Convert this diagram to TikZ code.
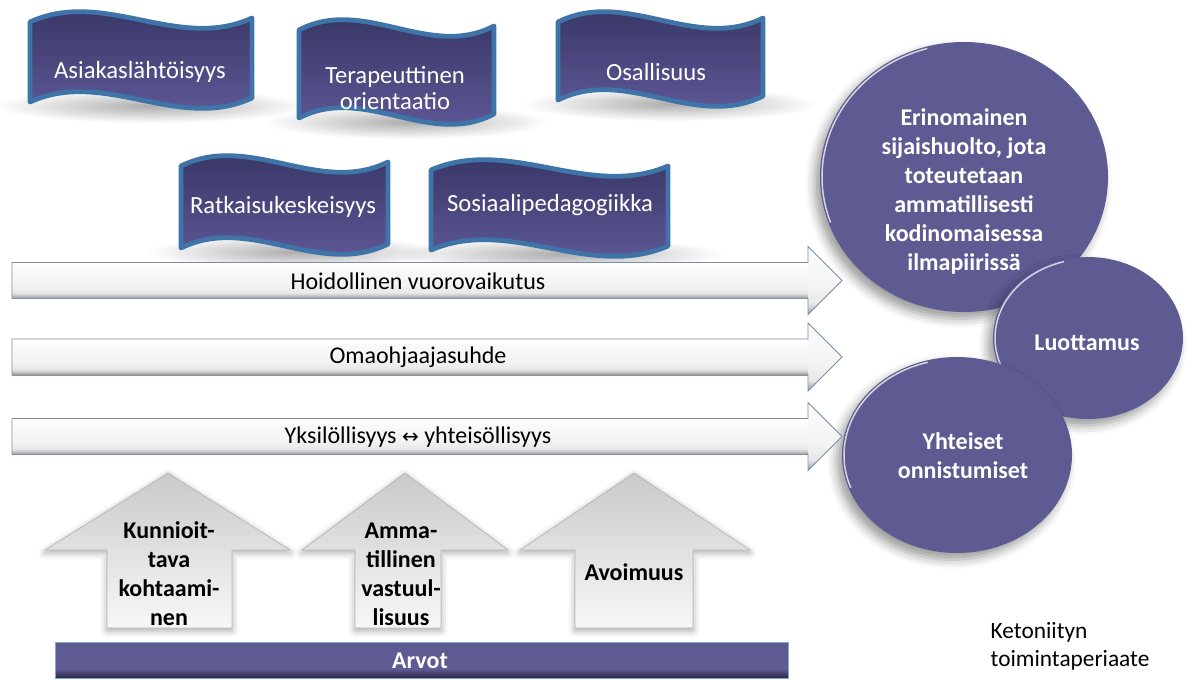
\documentclass[tikz,border=0pt]{standalone}
\usepackage{fontspec}
\setmainfont{Carlito}
\newfontfamily\symfont{DejaVu Sans}
\usetikzlibrary{shapes.geometric,shadows.blur,fadings}
\definecolor{flagedge}{RGB}{62,116,168}
\definecolor{flagtop}{RGB}{50,48,94}
\definecolor{flagbot}{RGB}{100,94,158}
\definecolor{circ}{RGB}{94,90,146}
\definecolor{bardark}{RGB}{40,38,70}
\definecolor{arredge}{RGB}{120,142,170}
\definecolor{baredge}{RGB}{130,165,200}
\tikzfading[name=flagfade, inner color=transparent!68, outer color=transparent!100]
\pgfdeclareverticalshading{hbar}{100bp}{color(0bp)=(gray!80); color(25bp)=(gray!80); color(28bp)=(gray!55); color(33bp)=(gray!18); color(45bp)=(gray!9); color(68bp)=(gray!4); color(72bp)=(white); color(75bp)=(white); color(100bp)=(white)}
\newcommand\fshadow[3]{%
  \fill[black, path fading=flagfade] ({(#1+#2)/2+10},{#3+4}) ellipse [x radius={(#2-#1)/2+45}, y radius=17];}
\newcommand\wavflag[4]{%
  \shadedraw[flagstyle] (#1,#3) .. controls ({#1+(#2-#1)/3},{#3-34}) and ({#1+2*(#2-#1)/3},{#3+30}) .. (#2,{#3-4})
   -- (#2,{#4-4}) .. controls ({#1+2*(#2-#1)/3},{#4+30}) and ({#1+(#2-#1)/3},{#4-34}) .. (#1,#4) -- cycle;}
\newcommand\harr[1]{%
  \shade[shading=hbar] (12,{#1-18}) -- (808,{#1-18}) -- (808,{#1-34}) -- (842,#1) -- (808,{#1+34}) -- (808,{#1+18}) -- (12,{#1+18}) -- cycle;
  \shade[shading=hbar] (12,{#1-18}) rectangle (808,{#1+18});
  \draw[arrline] (12,{#1-18}) -- (808,{#1-18}) -- (808,{#1-34}) -- (842,#1) -- (808,{#1+34}) -- (808,{#1+18}) -- (12,{#1+18}) -- cycle;}
\newcommand\uparr[5]{%
  \shadedraw[uparrow] (#1,628) -- (#1,550) -- (#3,550) -- (#5,473) -- (#4,550) -- (#2,550) -- (#2,628) -- cycle;}
\begin{document}
\begin{tikzpicture}[x=0.75pt,y=-0.75pt,
  flagstyle/.style={top color=flagtop, bottom color=flagbot, draw=flagedge, line width=3.6pt, line join=round},
  flagtext/.style={text=white, align=center, font=\fontsize{18.5}{20}\selectfont},
  arrline/.style={draw=arredge, line width=0.7pt, line join=miter},
  htext/.style={text=black, font=\fontsize{18}{21}\selectfont},
  uparrow/.style={top color=gray!42, bottom color=gray!6, draw=gray!55, line width=0.6pt,
    blur shadow={shadow xshift=0pt, shadow yshift=-2pt, shadow blur radius=5pt, shadow opacity=35}},
  uptext/.style={text=black, align=center, font=\fontsize{18}{21.75}\selectfont\bfseries},
  bubble/.style={ellipse, fill=circ, inner sep=0pt,
    blur shadow={shadow xshift=-4pt, shadow yshift=-5pt, shadow blur radius=7pt, shadow opacity=40}},
  rim/.style={draw=white, opacity=0.75, line width=1.1pt},
  bubtext/.style={text=white, align=center, font=\fontsize{18}{21.75}\selectfont\bfseries},
  plain/.style={text=black, align=left, font=\fontsize{17.5}{21}\selectfont}]
\useasboundingbox (0,0) rectangle (1194,679);
% flag shadows
\fshadow{30}{252}{102}
\fshadow{299}{494}{118}
\fshadow{558}{763}{100}
\fshadow{181}{388}{248}
\fshadow{431}{668}{250}
% flags
\wavflag{30}{252}{22}{102}
\wavflag{299}{494}{30}{118}
\wavflag{558}{763}{22}{100}
\wavflag{181}{388}{166}{248}
\wavflag{431}{668}{170}{250}
\node[flagtext] (f1) at (140,72) {Asiakaslähtöisyys};
\node[flagtext] (f2) at (395,88) {Terapeuttinen\\orientaatio};
\node[flagtext] (f3) at (656,72) {Osallisuus};
\node[flagtext] (f4) at (283,207) {Ratkaisukeskeisyys};
\node[flagtext] (f5) at (550,205) {Sosiaalipedagogiikka};
% circles
\node[bubble, minimum width=216pt, minimum height=202.5pt] (big) at (964,177) {};
\draw[rim] (964,177) ++(160:142 and 133) arc[start angle=160, end angle=255, x radius=142, y radius=133];
\node[bubble, minimum width=142.5pt, minimum height=121.5pt] (luo) at (1088,338) {};
\draw[rim] (1088,338) ++(160:93 and 79) arc[start angle=160, end angle=255, x radius=93, y radius=79];
\node[bubble, minimum width=172.5pt, minimum height=147pt] (yht) at (957,455) {};
\draw[rim] (957,455) ++(160:113 and 96) arc[start angle=160, end angle=255, x radius=113, y radius=96];
\node[bubtext] (bigt) at (964,191) {Erinomainen\\sijaishuolto, jota\\toteutetaan\\ammatillisesti\\kodinomaisessa\\ilmapiirissä};
\node[bubtext] (luot) at (1087,343) {Luottamus};
\node[bubtext] (yhtt) at (963,456) {Yhteiset\\onnistumiset};
% horizontal arrows
\harr{280.5}
\harr{357}
\harr{436.5}
\node[htext] (h1) at (418,281) {Hoidollinen vuorovaikutus};
\node[htext] (h2) at (418,357) {Omaohjaajasuhde};
\node[htext] (h3) at (418,437) {Yksilöllisyys {\symfont\fontsize{15}{18}\selectfont ↔} yhteisöllisyys};
% up arrows
\uparr{107}{232}{45}{290}{168}
\uparr{355}{441}{302}{508}{405}
\uparr{575}{693}{520}{750}{634}
\node[uptext] (u1) at (169,574) {Kunnioit-\\tava\\kohtaami-\\nen};
\node[uptext] (u2) at (401,574) {Amma-\\tillinen\\vastuul-\\lisuus};
\node[uptext] (u3) at (634,572) {Avoimuus};
% values bar
\fill[circ] (55,642) rectangle (788,678);
\shade[top color=circ, bottom color=bardark] (55,669) rectangle (788,678);
\draw[baredge, line width=0.6pt] (55,642) rectangle (788,678);
\node[text=white, font=\fontsize{18}{21}\selectfont\bfseries] (arvot) at (420,661) {Arvot};
% caption
\node[plain, anchor=west] (ket) at (986,646) {Ketoniityn\\toimintaperiaate};
\end{tikzpicture}
\end{document}
